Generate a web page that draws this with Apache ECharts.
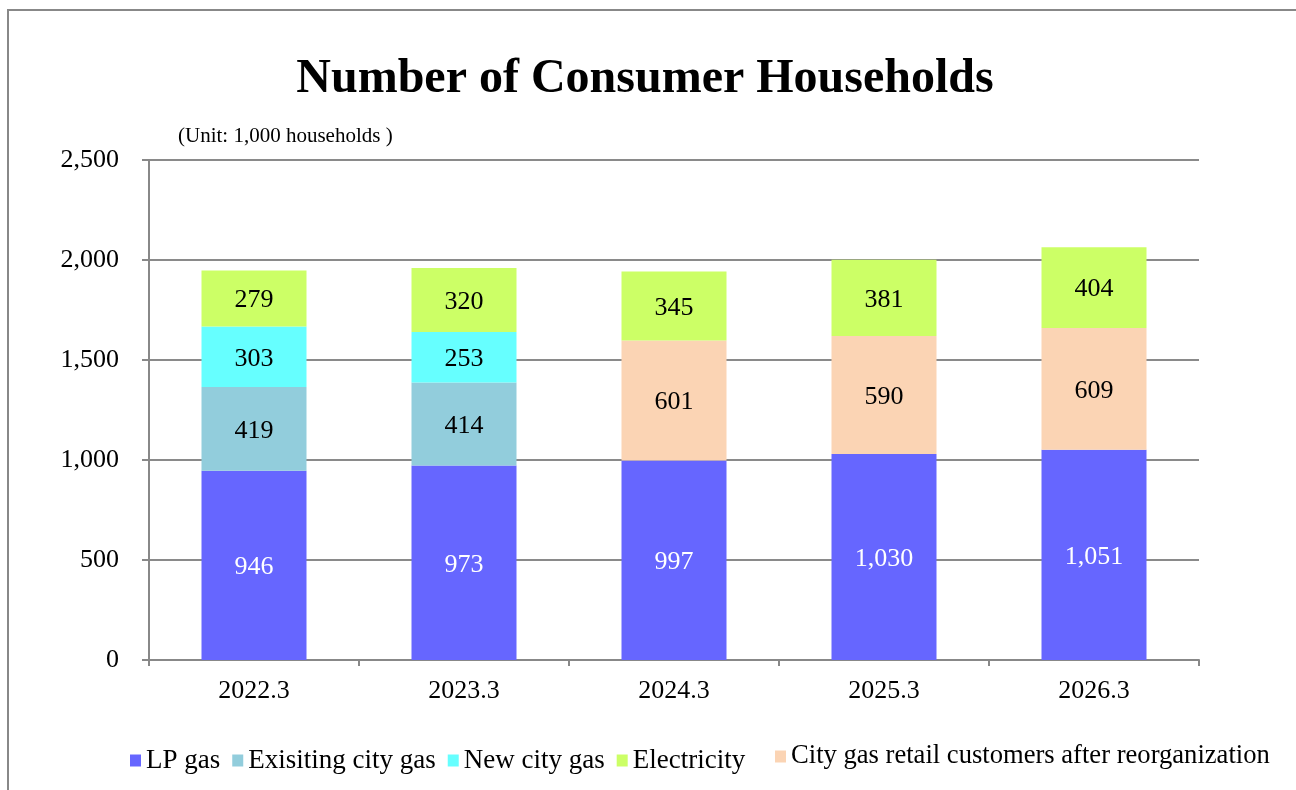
<!DOCTYPE html>
<html>
<head>
<meta charset="utf-8">
<script src="https://cdn.jsdelivr.net/npm/echarts@6/dist/echarts.min.js"></script>
<style>
html,body{margin:0;padding:0;background:#fff;}
#chart{width:1296px;height:790px;}
</style>
</head>
<body>
<div id="chart"></div>
<script>
// values in 1,000 households
var years = ['2022.3', '2023.3', '2024.3', '2025.3', '2026.3'];
var lpGas = [946, 973, 997, 1030, 1051];
var existingCityGas = [419, 414, null, null, null];
var newCityGas = [303, 253, null, null, null];
var retailAfterReorg = [null, null, 601, 590, 609];
var electricity = [279, 320, 345, 381, 404];
var yTicks = [0, 500, 1000, 1500, 2000, 2500];

var serif = "'Liberation Serif', 'Times New Roman', serif";

function fmt(v){
    return String(v).replace(/\B(?=(\d{3})+(?!\d))/g, ',');
}

function barSeries(name, data, color, labelColor){
    return {
        name: name,
        type: 'bar',
        stack: 'total',
        data: data,
        barWidth: '50%',
        itemStyle: {color: color},
        label: {
            show: true,
            position: 'inside',
            color: labelColor,
            fontFamily: serif,
            fontSize: 26,
            offset: [0, 2],
            formatter: function(p){ return p.value == null ? '' : fmt(p.value); }
        },
        emphasis: {disabled: true}
    };
}

var chart = echarts.init(document.getElementById('chart'));
var option = {
    animation: false,
    backgroundColor: '#fff',
    title: {
        text: 'Number of Consumer Households',
        left: 640,
        textAlign: 'center',
        top: 51,
        textStyle: {fontFamily: serif, fontSize: 48, fontWeight: 'bold', color: '#000'}
    },
    graphic: [
        {
            type: 'rect',
            shape: {x: 8, y: 10, width: 1400, height: 900},
            style: {fill: 'none', stroke: '#888', lineWidth: 2},
            silent: true
        },
        {
            type: 'line',
            shape: {x1: 149, y1: 660, x2: 149, y2: 666},
            style: {stroke: '#888', lineWidth: 2},
            silent: true
        },
        {
            type: 'text',
            left: 178,
            top: 126,
            style: {text: '(Unit: 1,000 households )', fontFamily: serif, fontSize: 21, fill: '#000'}
        }
    ],
    legend: [
        {
            data: ['LP gas', 'Exisiting city gas', 'New city gas', 'Electricity'],
            left: 125,
            top: 742,
            icon: 'rect',
            itemWidth: 11,
            itemHeight: 12,
            itemGap: 12,
            selectedMode: false,
            textStyle: {fontFamily: serif, fontSize: 27, color: '#000'}
        },
        {
            data: ['City gas retail customers after reorganization'],
            left: 770,
            top: 738,
            icon: 'rect',
            itemWidth: 11,
            itemHeight: 12,
            selectedMode: false,
            textStyle: {fontFamily: serif, fontSize: 26.6, color: '#000'}
        }
    ],
    grid: {left: 149, right: 97, top: 160, bottom: 130},
    xAxis: {
        type: 'category',
        data: years,
        axisLine: {lineStyle: {color: '#888', width: 2}},
        axisTick: {show: true, length: 6, lineStyle: {color: '#888', width: 2}},
        axisLabel: {fontFamily: serif, fontSize: 26, color: '#000', margin: 18}
    },
    yAxis: {
        type: 'value',
        min: yTicks[0],
        max: yTicks[yTicks.length - 1],
        interval: 500,
        axisLine: {show: true, lineStyle: {color: '#888', width: 2}},
        axisTick: {show: true, length: 7, lineStyle: {color: '#888', width: 2}},
        splitLine: {lineStyle: {color: '#8a8a8a', width: 2}},
        axisLabel: {fontFamily: serif, fontSize: 26, color: '#000', margin: 30, formatter: fmt}
    },
    series: [
        barSeries('LP gas', lpGas, '#6666FF', '#fff'),
        barSeries('Exisiting city gas', existingCityGas, '#92CDDC', '#000'),
        barSeries('New city gas', newCityGas, '#66FFFF', '#000'),
        barSeries('City gas retail customers after reorganization', retailAfterReorg, '#FBD4B4', '#000'),
        barSeries('Electricity', electricity, '#CCFF66', '#000')
    ]
};
chart.setOption(option);
</script>
</body>
</html>
